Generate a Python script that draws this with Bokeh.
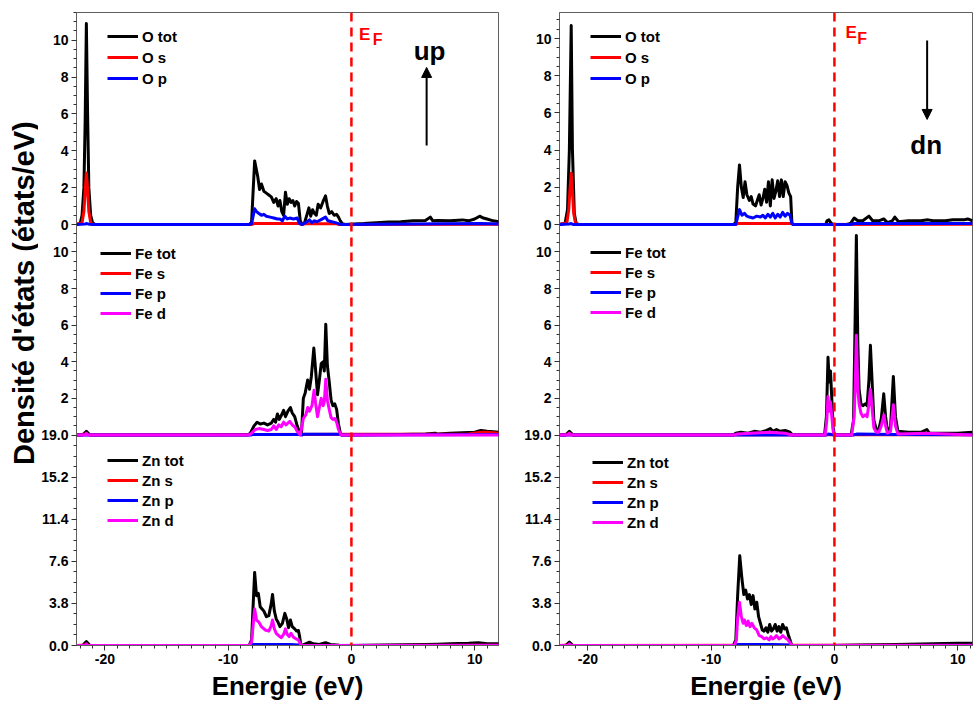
import math
from bokeh.plotting import figure
from bokeh.layouts import row
from bokeh.models import (Range1d, FixedTicker, SingleIntervalTicker, CustomJSTickFormatter,
                          Span, Legend, LegendItem, Arrow, NormalHead)
from bokeh.core.properties import value
from bokeh.embed import file_html
from bokeh.resources import INLINE

FONT = "Liberation Sans"

# ---------------- tick labels ----------------
energy_ticks = [-20, -10, 0, 10]
o_ticks = [0, 2, 4, 6, 8, 10]
fe_ticks = [2, 4, 6, 8, 10]
zn_ticks = [0.0, 3.8, 7.6, 11.4, 15.2, 19.0]

# ---------------- spin up (energy eV, DOS) ----------------
o_tot_up = [(-22.3, 0), (-22.0, 0.05), (-21.85, 0.5), (-21.7, 2.0), (-21.6, 5.5), (-21.5, 10.9), (-21.4, 6.0),
            (-21.3, 2.0), (-21.15, 0.5), (-21.0, 0.1), (-20.8, 0), (-8.3, 0), (-8.1, 0.1), (-7.85, 3.45),
            (-7.6, 2.6), (-7.45, 1.9), (-7.3, 2.2), (-7.1, 1.8), (-6.9, 1.7), (-6.7, 1.6), (-6.5, 1.5),
            (-6.3, 1.2), (-6.1, 1.4), (-5.95, 1.0), (-5.8, 1.3), (-5.65, 0.7), (-5.5, 0.5), (-5.35, 1.75),
            (-5.2, 1.1), (-5.05, 1.4), (-4.9, 1.2), (-4.75, 1.3), (-4.6, 1.0), (-4.45, 1.25), (-4.3, 1.15),
            (-4.15, 0.2), (-4.0, 0.0), (-3.8, 0.1), (-3.6, 0.55), (-3.45, 0.9), (-3.3, 0.45), (-3.15, 0.8),
            (-3.0, 0.6), (-2.85, 0.5), (-2.7, 1.1), (-2.5, 0.9), (-2.3, 1.25), (-2.1, 1.55), (-1.95, 1.0),
            (-1.8, 0.6), (-1.6, 0.7), (-1.4, 0.5), (-1.2, 0.55), (-1.05, 0.4), (-0.9, 0.2), (-0.75, 0.05),
            (-0.5, 0.0), (1, 0.05), (2, 0.1), (3, 0.13), (4, 0.15), (5, 0.2), (6, 0.22), (6.4, 0.4),
            (6.6, 0.2), (7, 0.22), (8, 0.2), (9, 0.25), (9.5, 0.2), (10, 0.3), (10.4, 0.45), (10.7, 0.35),
            (11, 0.3), (11.5, 0.2), (12, 0.15)]
o_s_up = [(-22.3, 0), (-21.85, 0.1), (-21.7, 0.7), (-21.6, 1.8), (-21.5, 2.8), (-21.4, 1.9), (-21.3, 0.7),
          (-21.15, 0.1), (-21.0, 0), (-8.1, 0), (-7.9, 0.05), (-4.2, 0.05), (-4.0, 0), (-3.8, 0.04),
          (-1.2, 0.04), (-1.0, 0), (12, 0.02)]
o_p_up = [(-22.3, 0), (-21.6, 0.03), (-21.5, 0.05), (-21.3, 0.02), (-20.8, 0), (-8.3, 0), (-8.1, 0.05),
          (-7.85, 0.85), (-7.7, 0.7), (-7.5, 0.6), (-7.3, 0.5), (-7.1, 0.55), (-6.9, 0.45), (-6.6, 0.4),
          (-6.3, 0.35), (-6.0, 0.3), (-5.8, 0.3), (-5.6, 0.2), (-5.4, 0.45), (-5.2, 0.3), (-5.0, 0.35),
          (-4.7, 0.3), (-4.4, 0.35), (-4.2, 0.05), (-4.0, 0), (-3.6, 0.15), (-3.4, 0.25), (-3.2, 0.1),
          (-3.0, 0.2), (-2.8, 0.15), (-2.5, 0.25), (-2.1, 0.4), (-1.9, 0.2), (-1.6, 0.15), (-1.3, 0.1),
          (-1.0, 0.03), (-0.8, 0), (5, 0.03), (10.5, 0.05), (12, 0.03)]

fe_tot_up = [(-22.3, 0), (-21.8, 0), (-21.5, 0.2), (-21.2, 0), (-8.4, 0), (-8.2, 0.1), (-7.9, 0.5),
             (-7.65, 0.7), (-7.4, 0.6), (-7.1, 0.65), (-6.8, 0.55), (-6.5, 0.65), (-6.3, 0.85), (-6.15, 0.7),
             (-6.0, 1.15), (-5.85, 0.85), (-5.7, 1.05), (-5.5, 1.35), (-5.35, 1.0), (-5.15, 1.3), (-4.95, 1.5),
             (-4.8, 1.2), (-4.6, 1.0), (-4.4, 0.5), (-4.2, 0.15), (-4.05, 0.1), (-3.9, 2.0), (-3.75, 2.3),
             (-3.55, 3.0), (-3.4, 2.5), (-3.25, 3.2), (-3.05, 4.75), (-2.9, 3.5), (-2.75, 2.2), (-2.6, 3.0),
             (-2.45, 3.9), (-2.3, 4.0), (-2.2, 3.5), (-2.08, 6.05), (-1.95, 3.8), (-1.8, 2.9), (-1.65, 1.9),
             (-1.5, 1.6), (-1.35, 1.7), (-1.2, 1.4), (-1.05, 0.6), (-0.9, 0.1), (-0.8, 0), (0, 0), (2, 0.02),
             (4, 0.03), (6, 0.05), (6.8, 0.1), (7, 0.05), (8, 0.1), (9, 0.12), (10, 0.15), (10.5, 0.25),
             (11, 0.2), (12, 0.15)]
fe_s_up = [(-22.3, 0), (-21.5, 0.05), (-21.2, 0), (9.5, 0.05), (10.5, 0.15), (11, 0.15), (12, 0.1)]
fe_p_up = [(-22.3, 0), (-8.2, 0), (-8.0, 0.03), (-4.2, 0.03), (-4.0, 0), (-3.9, 0.04), (-0.9, 0.04),
           (-0.8, 0), (12, 0.03)]
fe_d_up = [(-22.3, 0), (-21.6, 0), (-21.5, 0.1), (-21.4, 0), (-8.3, 0), (-8.1, 0.1), (-7.8, 0.3),
           (-7.5, 0.35), (-7.1, 0.3), (-6.8, 0.25), (-6.5, 0.3), (-6.3, 0.5), (-6.1, 0.3), (-5.9, 0.55),
           (-5.7, 0.45), (-5.5, 0.7), (-5.3, 0.55), (-5.0, 0.75), (-4.8, 0.55), (-4.6, 0.45), (-4.4, 0.2),
           (-4.15, 0), (-3.9, 0.9), (-3.7, 1.1), (-3.55, 1.5), (-3.4, 1.3), (-3.2, 1.6), (-3.03, 2.45),
           (-2.9, 1.7), (-2.75, 1.0), (-2.6, 1.5), (-2.45, 2.0), (-2.3, 1.6), (-2.2, 1.8), (-2.08, 3.05),
           (-1.95, 1.9), (-1.8, 1.4), (-1.65, 0.95), (-1.5, 0.85), (-1.35, 0.9), (-1.2, 0.7), (-1.05, 0.3),
           (-0.85, 0), (12, 0)]

zn_tot_up = [(-22.3, 0), (-21.8, 0), (-21.5, 0.35), (-21.2, 0), (-8.3, 0), (-8.1, 0.5), (-7.85, 6.6),
             (-7.7, 4.5), (-7.55, 4.7), (-7.4, 3.5), (-7.25, 3.3), (-7.1, 3.1), (-6.9, 2.6), (-6.7, 2.7),
             (-6.5, 3.8), (-6.4, 4.6), (-6.25, 3.1), (-6.1, 2.4), (-5.95, 2.1), (-5.8, 1.7), (-5.6, 2.0),
             (-5.4, 2.9), (-5.25, 2.4), (-5.1, 1.6), (-4.95, 2.3), (-4.8, 1.7), (-4.6, 1.5), (-4.45, 1.3),
             (-4.3, 1.35), (-4.2, 0.8), (-4.1, 0.05), (-3.9, 0.05), (-3.4, 0.3), (-3.1, 0.15), (-2.6, 0.1),
             (-2.1, 0.25), (-1.7, 0.1), (-1.0, 0.02), (0, 0), (3, 0.05), (6, 0.1), (7, 0.12), (8, 0.15),
             (9.5, 0.2), (10.3, 0.25), (11, 0.15), (12, 0.15)]
zn_s_up = [(-22.3, 0), (-21.5, 0.05), (-21.2, 0), (0, 0), (6, 0.03), (12, 0.05)]
zn_p_up = [(-22.3, 0), (-8.2, 0), (-8.0, 0.08), (-5.0, 0.08), (-4.2, 0.05), (-4.0, 0), (12, 0.03)]
zn_d_up = [(-22.3, 0), (-21.6, 0), (-21.5, 0.15), (-21.4, 0), (-8.3, 0), (-8.1, 0.3), (-7.85, 3.3),
           (-7.7, 2.3), (-7.5, 2.1), (-7.3, 1.7), (-7.0, 1.4), (-6.7, 1.3), (-6.5, 1.8), (-6.4, 2.3),
           (-6.25, 1.5), (-6.1, 1.1), (-5.9, 0.9), (-5.7, 0.7), (-5.5, 1.0), (-5.35, 1.5), (-5.2, 1.0),
           (-5.05, 0.8), (-4.9, 1.1), (-4.7, 0.75), (-4.5, 0.6), (-4.3, 0.5), (-4.15, 0.15), (-4.05, 0),
           (12, 0)]

# ---------------- spin down (energy eV, DOS) ----------------
o_tot_dn = [(-22.3, 0), (-21.85, 0.05), (-21.65, 0.8), (-21.5, 4.0), (-21.35, 10.7), (-21.25, 4.0),
            (-21.1, 0.6), (-20.95, 0.05), (-20.7, 0), (-8.2, 0), (-8.0, 0.1), (-7.85, 2.0), (-7.7, 3.2),
            (-7.55, 2.0), (-7.4, 1.45), (-7.25, 2.3), (-7.1, 1.6), (-6.9, 1.3), (-6.75, 1.5), (-6.6, 1.1),
            (-6.4, 1.0), (-6.25, 1.3), (-6.1, 1.6), (-5.95, 1.05), (-5.8, 1.4), (-5.65, 1.9), (-5.5, 1.2),
            (-5.35, 2.3), (-5.2, 1.0), (-5.05, 2.4), (-4.9, 1.4), (-4.75, 1.8), (-4.6, 2.35), (-4.45, 1.5),
            (-4.3, 2.4), (-4.15, 1.5), (-4.0, 2.3), (-3.85, 2.1), (-3.7, 1.7), (-3.55, 1.5), (-3.45, 0.1),
            (-3.35, 0), (-0.7, 0), (-0.6, 0.2), (-0.45, 0.25), (-0.3, 0.1), (-0.15, 0), (1.0, 0.0),
            (1.3, 0.05), (1.6, 0.35), (1.9, 0.2), (2.3, 0.2), (2.8, 0.45), (3.1, 0.2), (3.6, 0.2), (4.0, 0.3),
            (4.3, 0.1), (4.7, 0.2), (4.9, 0.4), (5.2, 0.15), (6, 0.2), (7, 0.2), (7.6, 0.25), (8, 0.2),
            (9, 0.2), (9.6, 0.25), (10.5, 0.25), (10.8, 0.3), (11.2, 0.2)]
o_s_dn = [(-22.3, 0), (-21.7, 0.1), (-21.55, 0.8), (-21.45, 1.9), (-21.35, 2.75), (-21.25, 1.8),
          (-21.15, 0.6), (-21.0, 0.05), (-20.9, 0), (-8.0, 0), (-7.85, 0.05), (-3.45, 0.05), (-3.35, 0),
          (11.2, 0.02)]
o_p_dn = [(-22.3, 0), (-21.5, 0.03), (-21.35, 0.05), (-21.2, 0), (-8.0, 0), (-7.85, 0.4), (-7.7, 0.8),
          (-7.5, 0.5), (-7.3, 0.6), (-7.1, 0.45), (-6.9, 0.4), (-6.6, 0.35), (-6.3, 0.45), (-6.0, 0.4),
          (-5.8, 0.5), (-5.6, 0.35), (-5.4, 0.55), (-5.2, 0.4), (-5.0, 0.6), (-4.8, 0.35), (-4.6, 0.55),
          (-4.4, 0.4), (-4.2, 0.65), (-4.0, 0.45), (-3.8, 0.6), (-3.6, 0.5), (-3.45, 0.05), (-3.35, 0),
          (1.3, 0), (1.6, 0.05), (11.2, 0.05)]

fe_tot_dn = [(-22.3, 0), (-21.8, 0), (-21.5, 0.2), (-21.2, 0), (-8.2, 0), (-8.0, 0.1), (-7.6, 0.15),
             (-7.0, 0.1), (-6.5, 0.2), (-6.0, 0.15), (-5.5, 0.25), (-5.2, 0.35), (-5.0, 0.2), (-4.7, 0.3),
             (-4.4, 0.2), (-4.0, 0.25), (-3.6, 0.15), (-3.4, 0), (-0.8, 0), (-0.65, 1.0), (-0.52, 4.25),
             (-0.42, 2.9), (-0.32, 3.5), (-0.2, 1.8), (-0.1, 0.4), (0.0, 0), (1.35, 0), (1.55, 0.8),
             (1.65, 5.0), (1.78, 10.9), (1.9, 5.0), (2.0, 2.5), (2.15, 1.7), (2.3, 1.6), (2.5, 1.7),
             (2.65, 1.6), (2.8, 3.0), (2.92, 4.9), (3.05, 3.0), (3.2, 0.8), (3.4, 0.3), (3.6, 0.3),
             (3.8, 0.9), (4.0, 2.25), (4.15, 1.0), (4.3, 0.25), (4.55, 0.4), (4.78, 3.2), (4.95, 1.0),
             (5.15, 0.2), (6, 0.15), (7, 0.15), (7.5, 0.3), (7.7, 0.1), (9, 0.1), (10, 0.1), (11.2, 0.15)]
fe_s_dn = [(-22.3, 0), (-21.5, 0.05), (-21.2, 0), (11.2, 0.02)]
fe_p_dn = [(-22.3, 0), (-0.7, 0), (-0.5, 0.05), (0, 0), (1.5, 0), (1.8, 0.05), (5.0, 0.03), (11.2, 0.02)]
fe_d_dn = [(-22.3, 0), (-21.6, 0), (-21.5, 0.1), (-21.4, 0), (-8.1, 0), (-7.9, 0.05), (-5.2, 0.15),
           (-4.0, 0.1), (-3.5, 0), (-0.75, 0), (-0.62, 0.8), (-0.52, 2.1), (-0.42, 1.3), (-0.32, 1.8),
           (-0.2, 0.9), (-0.1, 0.2), (0.0, 0), (1.4, 0), (1.6, 1.0), (1.7, 3.0), (1.78, 5.45), (1.9, 2.5),
           (2.0, 1.7), (2.15, 1.2), (2.3, 1.0), (2.5, 1.1), (2.65, 1.0), (2.8, 1.7), (2.92, 2.5),
           (3.05, 1.5), (3.2, 0.4), (3.4, 0.15), (3.6, 0.15), (3.8, 0.5), (4.02, 1.1), (4.15, 0.5),
           (4.3, 0.1), (4.55, 0.2), (4.78, 1.65), (4.95, 0.5), (5.15, 0.05), (7.5, 0.1), (11.2, 0)]

zn_tot_dn = [(-22.3, 0), (-21.8, 0), (-21.5, 0.3), (-21.2, 0), (-8.2, 0), (-8.0, 0.5), (-7.85, 4.5),
             (-7.68, 8.1), (-7.5, 6.0), (-7.35, 4.6), (-7.2, 5.0), (-7.05, 4.2), (-6.9, 4.6), (-6.75, 3.7),
             (-6.6, 4.5), (-6.45, 3.3), (-6.3, 3.9), (-6.15, 2.6), (-6.0, 2.0), (-5.85, 1.4), (-5.7, 1.3),
             (-5.55, 1.6), (-5.4, 1.2), (-5.25, 1.9), (-5.1, 1.3), (-4.95, 1.5), (-4.8, 1.9), (-4.65, 1.3),
             (-4.5, 1.7), (-4.35, 1.2), (-4.2, 1.9), (-4.05, 1.5), (-3.9, 1.6), (-3.75, 1.0), (-3.6, 0.5),
             (-3.47, 0), (0, 0), (2, 0.05), (5, 0.1), (8, 0.15), (10, 0.2), (11.2, 0.2)]
zn_s_dn = [(-22.3, 0), (-21.5, 0.05), (-21.2, 0), (11.2, 0.03)]
zn_p_dn = [(-22.3, 0), (-8.1, 0), (-7.9, 0.1), (-5.0, 0.08), (-3.6, 0.05), (-3.47, 0), (11.2, 0.03)]
zn_d_dn = [(-22.3, 0), (-21.6, 0), (-21.5, 0.15), (-21.4, 0), (-8.1, 0), (-7.95, 0.5), (-7.85, 2.5),
           (-7.7, 3.9), (-7.55, 2.6), (-7.4, 2.0), (-7.3, 2.3), (-7.15, 1.8), (-7.0, 2.2), (-6.85, 1.7),
           (-6.7, 2.0), (-6.5, 1.6), (-6.3, 1.4), (-6.1, 0.9), (-5.9, 0.8), (-5.7, 0.6), (-5.5, 0.7),
           (-5.3, 0.5), (-5.15, 0.8), (-5.0, 0.6), (-4.85, 0.7), (-4.7, 0.9), (-4.5, 0.6), (-4.35, 0.7),
           (-4.2, 0.9), (-4.0, 0.7), (-3.8, 0.55), (-3.6, 0.25), (-3.47, 0), (11.2, 0)]

# ---------------- layout constants ----------------
H = 633.0           # frame height in px
BANDS = {"o": (421.0, 633.0), "fe": (210.5, 421.0), "zn": (0.0, 210.5)}
BLACK, RED, BLUE, MAG = "#000000", "#ff0000", "#0000ff", "#ff00ff"


def make_column(panels, x_end, width, min_left, min_right, legend_x, spin_text, arrow, ef_pos):
    p = figure(width=width, height=706, x_range=Range1d(-22.3, x_end), y_range=Range1d(0, H),
               output_backend="svg", toolbar_location=None,
               min_border_left=min_left, min_border_right=min_right,
               min_border_top=12, min_border_bottom=61)
    p.grid.visible = False
    p.outline_line_color = "#606060"
    p.outline_line_width = 1
    p.background_fill_color = "white"
    p.border_fill_color = "white"

    tick_pos, tick_lab, minor_pos = [], [], []
    for key, ymax, ticks, fmt, minor_step, curves, leg_y in panels:
        b0, b1 = BANDS[key]
        scale = (b1 - b0) / ymax
        p.extra_y_ranges[key] = Range1d(-b0 / scale, (H - b0) / scale)
        for t in ticks:
            tick_pos.append(b0 + t * scale)
            tick_lab.append(fmt % t)
        n = int(round(ymax / minor_step))
        for i in range(n + 1):
            minor_pos.append(b0 + i * minor_step * scale)
        items = []
        for label, data, color in curves:
            xs = [d[0] for d in data]
            ys = [d[1] for d in data]
            r = p.line(xs, ys, y_range_name=key, line_color=color, line_width=3, line_join="round")
            items.append(LegendItem(label=label, renderers=[r]))
        leg = Legend(items=items, location=(legend_x[key], leg_y), glyph_width=31, glyph_height=20,
                     label_height=20, label_standoff=4, spacing=1 if len(items) == 3 else 0,
                     padding=0, margin=0, border_line_color=None, background_fill_alpha=0,
                     label_text_font=FONT, label_text_font_style="bold", label_text_font_size="15px",
                     label_text_color="black")
        p.add_layout(leg, "center")

    yax = p.yaxis[0]
    yax.ticker = FixedTicker(ticks=tick_pos, minor_ticks=minor_pos)
    yax.formatter = CustomJSTickFormatter(args=dict(pos=tick_pos, lab=tick_lab), code="""
        let best = ""; let d = 1e9;
        for (let i = 0; i < pos.length; i++) {
            const dd = Math.abs(pos[i] - tick);
            if (dd < d) { d = dd; best = lab[i]; }
        }
        return d < 0.01 ? best : "";
    """)
    for ax in (p.yaxis[0], p.xaxis[0]):
        ax.axis_line_color = "#606060"
        ax.major_tick_line_color = "#303030"
        ax.minor_tick_line_color = "#303030"
        ax.major_tick_in = 0
        ax.minor_tick_in = 0
        ax.major_tick_out = 5
        ax.minor_tick_out = 3
        ax.major_label_text_font = FONT
        ax.major_label_text_font_style = "bold"
        ax.major_label_text_font_size = "14px"
        ax.major_label_text_color = "black"
        ax.major_label_standoff = 3
    xax = p.xaxis[0]
    xax.ticker = SingleIntervalTicker(interval=10, num_minor_ticks=10)
    xax.formatter = CustomJSTickFormatter(args=dict(etk=energy_ticks), code="""
        const r = Math.round(tick);
        return etk.includes(r) ? String(r) : "";
    """)
    xax.axis_label = "Energie (eV)"
    xax.axis_label_text_font = FONT
    xax.axis_label_text_font_style = "bold"
    xax.axis_label_text_font_size = "26px"
    xax.axis_label_text_color = "black"
    xax.axis_label_standoff = 4

    p.add_layout(Span(location=0, dimension="height", line_color=RED, line_dash="9 6", line_width=2.5))

    (ex, ey), (fx, fy) = ef_pos
    p.text(x=[ex], y=[ey], text=["E"], y_range_name="o", text_color=RED, text_font=value(FONT),
           text_font_style="bold", text_font_size="17px", text_align="left", text_baseline="alphabetic")
    p.text(x=[fx], y=[fy], text=["F"], y_range_name="o", text_color=RED, text_font=value(FONT),
           text_font_style="bold", text_font_size="16px", text_align="left", text_baseline="alphabetic")

    sx, sy, stxt = spin_text
    p.text(x=[sx], y=[sy], text=[stxt], y_range_name="o", text_color="black", text_font=value(FONT),
           text_font_style="bold", text_font_size="26px", text_align="left", text_baseline="alphabetic")
    ax_, y0, y1 = arrow
    p.add_layout(Arrow(end=NormalHead(size=10, fill_color="black", line_color="black"),
                       x_start=ax_, y_start=y0, x_end=ax_, y_end=y1, y_range_name="o",
                       line_color="black", line_width=2))
    return p


left_panels = [
    ("o", 11.5, o_ticks, "%d", 0.5,
     [("O tot", o_tot_up, BLACK), ("O s", o_s_up, RED), ("O p", o_p_up, BLUE)], 557),
    ("fe", 11.5, fe_ticks, "%d", 0.5,
     [("Fe tot", fe_tot_up, BLACK), ("Fe s", fe_s_up, RED), ("Fe p", fe_p_up, BLUE), ("Fe d", fe_d_up, MAG)], 322),
    ("zn", 19.0, zn_ticks, "%.1f", 0.95,
     [("Zn tot", zn_tot_up, BLACK), ("Zn s", zn_s_up, RED), ("Zn p", zn_p_up, BLUE), ("Zn d", zn_d_up, MAG)], 115),
]
right_panels = [
    ("o", 11.4, o_ticks, "%d", 0.5,
     [("O tot", o_tot_dn, BLACK), ("O s", o_s_dn, RED), ("O p", o_p_dn, BLUE)], 557),
    ("fe", 11.5, fe_ticks, "%d", 0.5,
     [("Fe tot", fe_tot_dn, BLACK), ("Fe s", fe_s_dn, RED), ("Fe p", fe_p_dn, BLUE), ("Fe d", fe_d_dn, MAG)], 323),
    ("zn", 19.0, zn_ticks, "%.1f", 0.95,
     [("Zn tot", zn_tot_dn, BLACK), ("Zn s", zn_s_dn, RED), ("Zn p", zn_p_dn, BLUE), ("Zn d", zn_d_dn, MAG)], 113),
]

left = make_column(left_panels, 11.93, 473, 38, 13, {"o": 31, "fe": 24, "zn": 31},
                   (5.05, 9.42, "up"), (6.1, 4.29, 8.52), ((0.62, 10.3), (1.72, 10.02)))
right = make_column(right_panels, 11.2, 462, 48, 1, {"o": 31, "fe": 31, "zn": 33},
                    (6.16, 4.28, "dn"), (7.52, 9.9, 5.65), ((0.89, 10.31), (1.86, 9.98)))

lab = figure(width=38, height=706, x_range=Range1d(0, 38), y_range=Range1d(0, 706),
             output_backend="svg", toolbar_location=None, min_border=0,
             x_axis_location=None, y_axis_location=None)
lab.grid.visible = False
lab.outline_line_color = None
lab.text(x=[23], y=[393], text=["Densité d'états (états/eV)"], angle=math.pi / 2,
         text_align="center", text_baseline="middle", text_font=value(FONT), text_font_style="bold",
         text_font_size="29px", text_color="black")

layout = row(lab, left, right, spacing=0)
open("out.html", "w").write(file_html(layout, INLINE))
